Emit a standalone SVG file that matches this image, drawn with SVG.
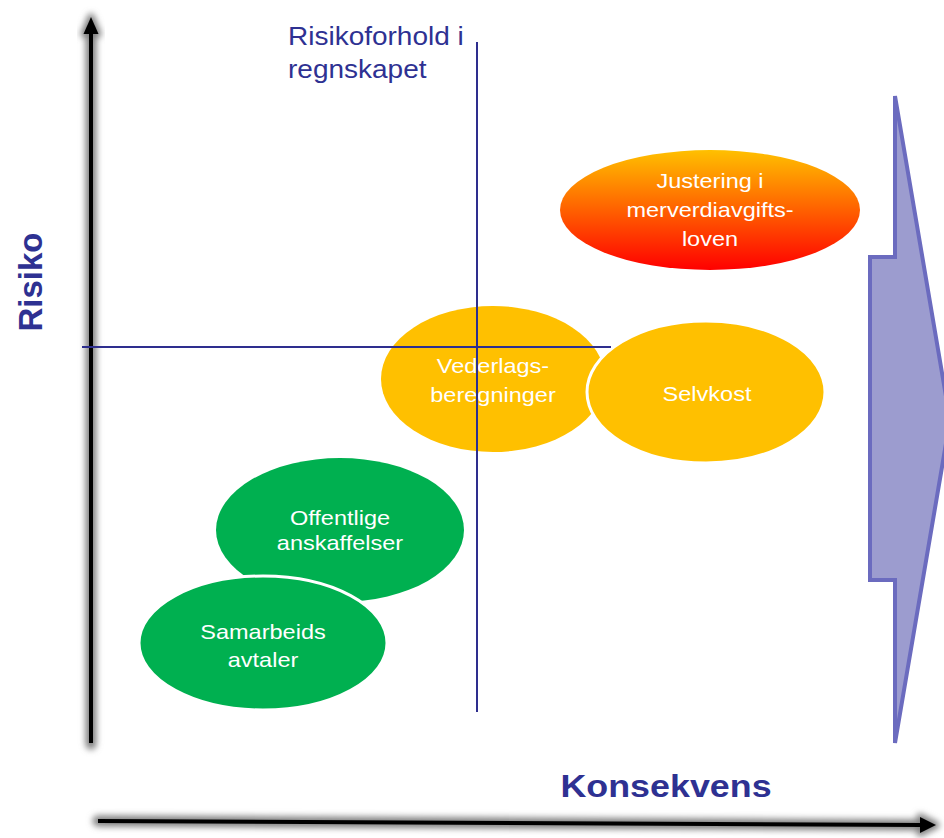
<svg xmlns="http://www.w3.org/2000/svg" width="944" height="838" viewBox="0 0 944 838">
  <defs>
    <style>
      .axis { stroke: #000; stroke-width: 4; fill: none; }
      .axis-head { fill: #000; }
      .halo { stroke: #808080; stroke-width: 11; fill: none; stroke-linecap: round; }
      .halo-head { fill: #808080; stroke: #808080; stroke-width: 7; stroke-linejoin: round; }
      .grid { stroke: #2E2E8E; stroke-width: 2; fill: none; }
      .label { font-family: "Liberation Sans", Arial, sans-serif; fill: #2E3192; }
      .bold { font-weight: bold; }
      .node-text { font-family: "Liberation Sans", Arial, sans-serif; font-size: 21px; fill: #fff; text-anchor: middle; }
      .yellow { fill: #FFC000; }
      .green { fill: #00B050; }
      .cut { stroke: #fff; stroke-width: 3; }
    </style>
    <linearGradient id="hotFill" x1="0" y1="0" x2="0" y2="1">
      <stop offset="0" stop-color="#FFC000"/>
      <stop offset="0.45" stop-color="#FF6A00"/>
      <stop offset="1" stop-color="#FF0000"/>
    </linearGradient>
    <filter id="soft" x="-50%" y="-5%" width="200%" height="110%">
      <feGaussianBlur stdDeviation="3"/>
    </filter>
    <filter id="softH" x="-5%" y="-200%" width="110%" height="500%">
      <feGaussianBlur stdDeviation="3"/>
    </filter>
  </defs>

  <rect width="944" height="838" fill="#fff"/>

  <!-- big progression arrow on the right -->
  <polygon id="progress-arrow" points="895,96 950,420 895,743 895,580 870,580 870,257 895,257"
           fill="#9C9CCF" stroke="#6B6BBF" stroke-width="4" stroke-linejoin="miter"/>

  <!-- axes with soft halo -->
  <g id="axes">
    <g filter="url(#soft)">
      <line class="halo" x1="91" y1="28" x2="91" y2="744"/>
      <polygon class="halo-head" points="91,17 84,34 98,34"/>
    </g>
    <g filter="url(#softH)">
      <line class="halo" x1="98" y1="821" x2="925" y2="825"/>
      <polygon class="halo-head" points="936,825 920,817 920,833"/>
    </g>
    <line class="axis" x1="91" y1="30" x2="91" y2="743"/>
    <polygon class="axis-head" points="91,17 83.5,34 98.5,34"/>
    <line class="axis" x1="98" y1="821" x2="922" y2="825"/>
    <polygon class="axis-head" points="936,825 920,817 920,833"/>
  </g>

  <!-- axis titles -->
  <text class="label bold" font-size="33" text-anchor="middle" transform="translate(42,282) rotate(-90)">Risiko</text>
  <text class="label bold" font-size="32" text-anchor="middle" transform="matrix(1.12 0 0 1 666 797)">Konsekvens</text>
  <text class="label" font-size="25" transform="matrix(1.12 0 0 1 288 45)">Risikoforhold i</text>
  <text class="label" font-size="25" transform="matrix(1.12 0 0 1 288 78)">regnskapet</text>

  <!-- nodes -->
  <g id="node-justering">
    <ellipse cx="710" cy="210" rx="150" ry="60" fill="url(#hotFill)"/>
    <text class="node-text" transform="matrix(1.12 0 0 1 710 188)">Justering i</text>
    <text class="node-text" transform="matrix(1.12 0 0 1 710 217)">merverdiavgifts-</text>
    <text class="node-text" transform="matrix(1.12 0 0 1 710 246)">loven</text>
  </g>

  <g id="node-vederlag">
    <ellipse class="yellow" cx="493" cy="379" rx="112" ry="73"/>
    <text class="node-text" transform="matrix(1.12 0 0 1 493 373)">Vederlags-</text>
    <text class="node-text" transform="matrix(1.12 0 0 1 493 402)">beregninger</text>
  </g>

  <g id="node-selvkost">
    <ellipse class="yellow cut" cx="706" cy="392" rx="119" ry="71"/>
    <text class="node-text" transform="matrix(1.12 0 0 1 707 401)">Selvkost</text>
  </g>

  <g id="node-offentlige">
    <ellipse class="green" cx="340" cy="530" rx="124" ry="72"/>
    <text class="node-text" font-size="19.5" transform="matrix(1.12 0 0 1 340 525)">Offentlige</text>
    <text class="node-text" font-size="19.5" transform="matrix(1.12 0 0 1 340 550)">anskaffelser</text>
  </g>

  <g id="node-samarbeid">
    <ellipse class="green cut" cx="263" cy="643" rx="124" ry="67"/>
    <text class="node-text" transform="matrix(1.12 0 0 1 263 639)">Samarbeids</text>
    <text class="node-text" transform="matrix(1.12 0 0 1 263 667)">avtaler</text>
  </g>

  <!-- quadrant divider lines -->
  <g id="connectors">
    <line class="grid" x1="477" y1="42" x2="477" y2="712"/>
    <line class="grid" x1="82" y1="347" x2="611" y2="347"/>
  </g>
</svg>
